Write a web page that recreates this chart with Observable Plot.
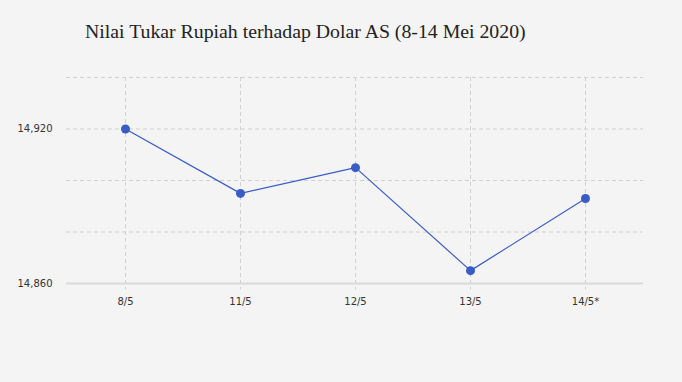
<!DOCTYPE html>
<html>
<head>
<meta charset="utf-8">
<script src="https://cdn.jsdelivr.net/npm/d3@7"></script>
<script src="https://cdn.jsdelivr.net/npm/@observablehq/plot@0.6"></script>
<style>
  html, body { margin: 0; padding: 0; background: #f4f4f4; }
  #wrap { position: relative; width: 682px; height: 382px; overflow: hidden; }
  #title { position: absolute; left: 85px; top: 20px; font-family: "Liberation Serif", "Times New Roman", serif; font-size: 19.8px; color: #222; white-space: nowrap; }
  #chart { position: absolute; left: 0; top: 0; }
</style>
</head>
<body>
<div id="wrap">
  <div id="title">Nilai Tukar Rupiah terhadap Dolar AS (8-14 Mei 2020)</div>
  <div id="chart"></div>
</div>
<script>
const dates = ["8/5", "11/5", "12/5", "13/5", "14/5*"];
const rates = [14920, 14895, 14905, 14865, 14893];
const gridValues = [14860, 14880, 14900, 14920, 14940];
const labelTicks = [14860, 14920];

const data = dates.map((d, i) => ({date: d, rate: rates[i]}));

const chart = Plot.plot({
  width: 682,
  height: 382,
  marginTop: 77,
  marginBottom: 99,
  marginLeft: 66,
  marginRight: 39,
  style: {background: "transparent", fontFamily: "'DejaVu Sans', Verdana, sans-serif", fontSize: "10px", color: "#333"},
  x: {type: "point", domain: dates, padding: 0.5, label: null},
  y: {domain: [14860, 14940], label: null},
  marks: [
    Plot.ruleY(gridValues.slice(1), {stroke: "#d0d0d0", strokeWidth: 1, strokeDasharray: "4,3", strokeOpacity: 1}),
    Plot.ruleX(dates, {x: d => d, y1: 14940, y2: 14857.5, stroke: "#d0d0d0", strokeWidth: 1, strokeDasharray: "4,3", strokeOpacity: 1}),
    Plot.ruleY([14860], {stroke: "#dadada", strokeWidth: 2}),
    Plot.axisY(labelTicks, {tickSize: 0, tickPadding: 14, tickFormat: d3.format(","), fill: "#333"}),
    Plot.axisX(dates, {tickSize: 0, tickPadding: 14, fill: "#333"}),
    Plot.line(data, {x: "date", y: "rate", stroke: "#3a5cc6", strokeWidth: 1.2}),
    Plot.dot(data, {x: "date", y: "rate", r: 4.5, fill: "#3a5cc6", stroke: "none"})
  ]
});
document.getElementById("chart").appendChild(chart);
</script>
</body>
</html>
